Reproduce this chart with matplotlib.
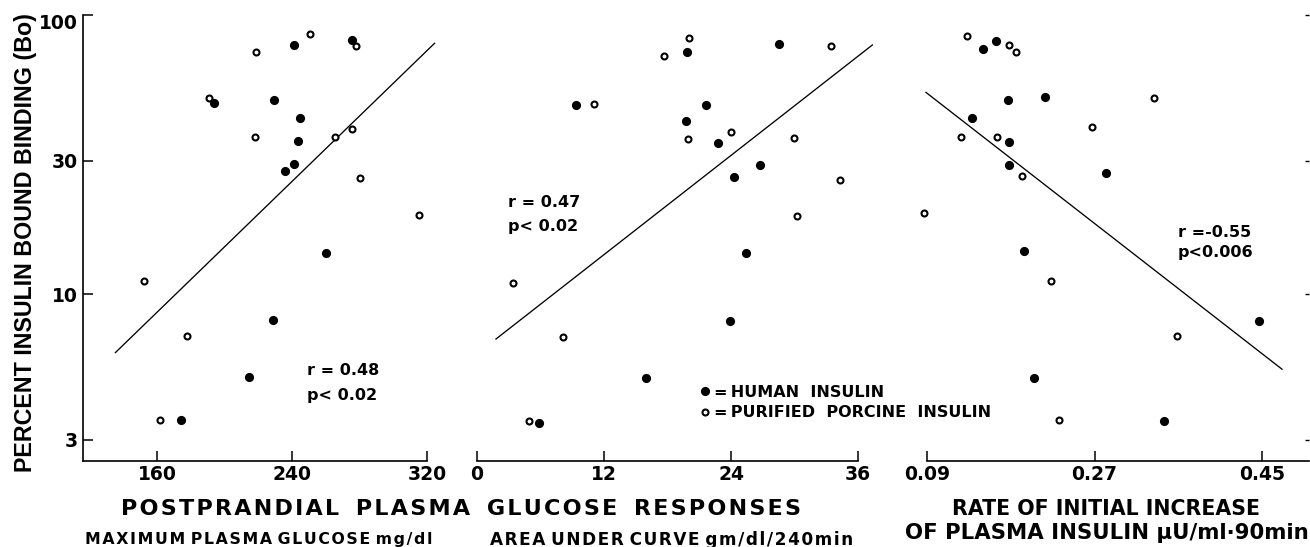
import matplotlib
matplotlib.use('Agg')
import matplotlib.pyplot as plt
from matplotlib.font_manager import FontProperties
from matplotlib.lines import Line2D
from matplotlib.ticker import NullLocator
from matplotlib.transforms import ScaledTranslation

plt.rcParams['font.family'] = ['DejaVu Sans']
plt.rcParams['font.weight'] = 'bold'

# ---------------- data (percent insulin bound binding, Bo) ----------------
# Panel 1: maximum plasma glucose (mg/dl)
maxglu_human_x = [241.4, 275.4, 193.6, 229.5, 244.9, 243.4, 235.7, 241.0, 260.0, 228.7, 214.3, 174.2]
maxglu_human_y = [78.0, 81.5, 48.4, 49.5, 42.7, 35.3, 27.5, 29.3, 14.0, 8.1, 5.05, 3.54]
maxglu_porcine_x = [250.9, 218.9, 277.9, 190.8, 218.3, 265.7, 275.6, 280.1, 315.5, 152.1, 177.8, 162.0]
maxglu_porcine_y = [85.5, 73.5, 77.6, 50.5, 36.4, 36.4, 39.2, 26.0, 19.2, 11.1, 7.1, 3.54]
maxglu_fit_x = [135.3, 324.5]
maxglu_fit_y = [6.17, 79.2]

# Panel 2: area under curve (gm/dl/240min)
auc_human_x = [19.84, 28.55, 9.40, 21.67, 19.78, 22.74, 26.76, 24.31, 25.41, 23.87, 15.94, 5.85]
auc_human_y = [73.5, 78.9, 47.6, 47.5, 41.6, 34.9, 29.0, 26.2, 14.0, 8.0, 5.0, 3.46]
auc_porcine_x = [20.03, 17.70, 11.07, 19.97, 24.03, 29.94, 33.43, 34.28, 30.22, 3.36, 8.08, 4.87]
auc_porcine_y = [82.5, 71.2, 47.9, 35.9, 38.1, 36.2, 77.2, 25.7, 19.1, 11.0, 7.0, 3.51]
auc_fit_x = [1.79, 37.36]
auc_fit_y = [6.9, 78.1]

# Panel 3: rate of initial increase of plasma insulin
rate_human_x = [0.1645, 0.150, 0.1767, 0.2172, 0.1387, 0.1785, 0.178, 0.2824, 0.1946, 0.447, 0.2046, 0.3443]
rate_human_y = [80.8, 75.5, 49.5, 50.8, 42.7, 35.2, 29.0, 27.2, 14.3, 8.0, 5.0, 3.51]
rate_porcine_x = [0.133, 0.1785, 0.186, 0.334, 0.267, 0.127, 0.165, 0.192, 0.0868, 0.223, 0.359, 0.232]
rate_porcine_y = [83.8, 78.2, 73.6, 50.3, 39.7, 36.5, 36.6, 26.4, 19.6, 11.1, 7.1, 3.54]
rate_fit_x = [0.0889, 0.4715]
rate_fit_y = [52.8, 5.38]

y_ticks = [3, 10, 30, 100]
y_ticklabels = ['3', '10', '30', '100']
maxglu_ticks = [160, 240, 320]
auc_ticks = [0, 12, 24, 36]
rate_ticks = [0.09, 0.27, 0.45]
rate_ticklabels = ['0.09', '0.27', '0.45']

stats_text = [("r = 0.48", "p< 0.02"), ("r = 0.47", "p< 0.02"), ("r =-0.55", "p<0.006")]
legend_labels = ["=\u2009HUMAN  INSULIN", "=\u2009PURIFIED  PORCINE  INSULIN"]

# ---------------- figure ----------------
W, H = 1310, 547
fig = plt.figure(figsize=(W / 100, H / 100), dpi=100)
fig.patch.set_facecolor('white')

Y_TOP, Y_BOT = 15, 460.5


def fx(px):
    return px / W


def fy(py):
    return 1 - py / H


def px_rect(x0, x1):
    return [fx(x0), fy(Y_BOT), (x1 - x0) / W, (Y_BOT - Y_TOP) / H]


ax1 = fig.add_axes(px_rect(83, 427))
ax2 = fig.add_axes(px_rect(477, 858))
ax3 = fig.add_axes(px_rect(927, 1309))

xlims = [(116.1, 320), (0, 36), (0.09, 0.5005)]
xt = [maxglu_ticks, auc_ticks, rate_ticks]
xtl = [[str(v) for v in maxglu_ticks], [str(v) for v in auc_ticks], rate_ticklabels]
series = [
    (maxglu_human_x, maxglu_human_y, maxglu_porcine_x, maxglu_porcine_y, maxglu_fit_x, maxglu_fit_y),
    (auc_human_x, auc_human_y, auc_porcine_x, auc_porcine_y, auc_fit_x, auc_fit_y),
    (rate_human_x, rate_human_y, rate_porcine_x, rate_porcine_y, rate_fit_x, rate_fit_y),
]

FILLED = dict(marker='o', ls='none', color='black', ms=6.6, mew=0)
OPEN = dict(marker='o', ls='none', mfc='white', mec='black', ms=4.3, mew=1.5)

for ax, xl, ticks, tl, (hx, hy, px_, py_, fx_, fy_) in zip([ax1, ax2, ax3], xlims, xt, xtl, series):
    ax.set_yscale('log')
    ax.set_ylim(2.533, 100)
    ax.set_xlim(*xl)
    ax.patch.set_alpha(0)
    for s in ['top', 'right', 'left']:
        ax.spines[s].set_visible(False)
    ax.spines['bottom'].set_linewidth(1.2)
    ax.set_xticks(ticks)
    ax.set_xticklabels(tl)
    ax.tick_params(axis='x', direction='in', length=7.5, width=1.1, pad=3.0, labelsize=13.5)
    ax.yaxis.set_minor_locator(NullLocator())
    ax.plot(fx_, fy_, color='black', lw=0.95, clip_on=False, zorder=2)
    ax.plot(hx, hy, clip_on=False, zorder=3, **FILLED)
    ax.plot(px_, py_, clip_on=False, zorder=3, **OPEN)

# left axis of panel 1
ax1.spines['left'].set_visible(True)
ax1.spines['left'].set_linewidth(1.2)
ax1.set_yticks(y_ticks)
ax1.set_yticklabels(y_ticklabels)
ax1.yaxis.set_minor_locator(NullLocator())
ax1.tick_params(axis='y', direction='in', length=7, width=1.1, pad=4.0, labelsize=13.5)
top_lbl = ax1.yaxis.get_major_ticks()[-1].label1
top_lbl.set_transform(top_lbl.get_transform() + ScaledTranslation(0, -6 / 100, fig.dpi_scale_trans))

ax2.set_yticks([])
ax2.yaxis.set_minor_locator(NullLocator())
ax3.yaxis.set_ticks_position('right')
ax3.set_yticks(y_ticks)
ax3.set_yticklabels([''] * len(y_ticks))
ax3.yaxis.set_minor_locator(NullLocator())
ax3.tick_params(axis='y', direction='in', length=3, width=1.0, labelright=False)

# ---------------- texts ----------------
renderer = fig.canvas.get_renderer()


def measure(s, fp):
    t = fig.text(0, 0, s, fontproperties=fp)
    w = t.get_window_extent(renderer).width
    t.remove()
    return w


def fitted(s, family, width, base=12.0):
    fp = FontProperties(family=family, weight='bold', size=base)
    w = measure(s, fp)
    return FontProperties(family=family, weight='bold', size=base * width / w)


def tracked(s, sep, wsep):
    return (wsep + ' ' + wsep).join(sep.join(w) for w in s.split(' '))


def put(s, cx, base_y, width, family='DejaVu Sans', sep=None, wsep=''):
    txt = tracked(s, sep, wsep) if sep else s
    fp = fitted(txt, family, width)
    fig.text(fx(cx), fy(base_y), txt, ha='center', va='baseline', fontproperties=fp)


HAIR = '\u200a'
THIN = '\u2009'
put("POSTPRANDIAL PLASMA GLUCOSE RESPONSES", 461, 515, 677, sep=HAIR, wsep=THIN)
put("MAXIMUM PLASMA GLUCOSE mg/dl", 259, 544, 343, sep=HAIR, wsep='')
put("AREA UNDER CURVE gm/dl/240min", 672, 545, 363, sep=HAIR, wsep='')
put("RATE OF INITIAL INCREASE", 1106, 515, 308)
put("OF PLASMA INSULIN \u03bcU/ml\u00b790min", 1107, 539, 401)

ylab = "PERCENT INSULIN BOUND BINDING (Bo)"
fp_y = fitted(ylab, ['Liberation Sans', 'DejaVu Sans'], 458)
fig.text(fx(32), fy(243), ylab, rotation=90, rotation_mode='anchor',
         ha='center', va='baseline', fontproperties=fp_y)

# statistics annotations
stat_pos = [(307, 375, 400), (508, 207, 231), (1178, 237, 257)]
fp_stat = FontProperties(family='DejaVu Sans', weight='bold', size=11.5)
for (r_txt, p_txt), (x0, y_r, y_p) in zip(stats_text, stat_pos):
    fig.text(fx(x0), fy(y_r), r_txt, ha='left', va='baseline', fontproperties=fp_stat)
    fig.text(fx(x0), fy(y_p), p_txt, ha='left', va='baseline', fontproperties=fp_stat)

# legend
handles = [Line2D([], [], **FILLED), Line2D([], [], **OPEN)]
fig.legend(handles, legend_labels, loc='upper left',
           bbox_to_anchor=(fx(701), fy(385)), bbox_transform=fig.transFigure,
           frameon=False, handlelength=0.5, handletextpad=0.3, borderpad=0,
           borderaxespad=0, labelspacing=0.32,
           prop=FontProperties(family='DejaVu Sans', weight='bold', size=11.5))

fig.savefig('out.png', dpi=100, facecolor='white')
